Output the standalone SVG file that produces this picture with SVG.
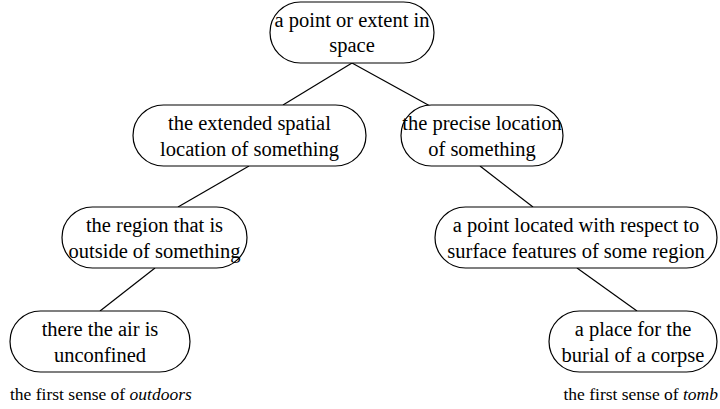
<svg xmlns="http://www.w3.org/2000/svg" width="720" height="409" viewBox="0 0 720 409">
<rect width="720" height="409" fill="#fff"/>
<g id="edges" stroke="#000" stroke-width="1.2">
<line x1="352" y1="63" x2="283" y2="105"/>
<line x1="352" y1="63" x2="430" y2="106"/>
<line x1="249" y1="166" x2="178" y2="207"/>
<line x1="480" y1="166" x2="533" y2="207"/>
<line x1="155" y1="268" x2="100" y2="311"/>
<line x1="577" y1="268" x2="637" y2="311"/>
</g>
<g id="nodes" fill="#fff" stroke="#000" stroke-width="1.2">
<g id="n1"><rect x="270" y="2" width="164" height="61" rx="30.5"/><text x="352" y="27" font-family="Liberation Serif" font-size="20.5" text-anchor="middle" fill="#000" stroke="none">a point or extent in</text><text x="352" y="52" font-family="Liberation Serif" font-size="20.5" text-anchor="middle" fill="#000" stroke="none">space</text></g>
<g id="n2"><rect x="133" y="105" width="233" height="61" rx="30.5"/><text x="249.5" y="130" font-family="Liberation Serif" font-size="20.5" text-anchor="middle" fill="#000" stroke="none">the extended spatial</text><text x="249.5" y="156" font-family="Liberation Serif" font-size="20.5" text-anchor="middle" fill="#000" stroke="none">location of something</text></g>
<g id="n3"><rect x="401" y="105" width="162" height="61" rx="30.5"/><text x="482" y="130" font-family="Liberation Serif" font-size="20.5" text-anchor="middle" fill="#000" stroke="none">the precise location</text><text x="482" y="156" font-family="Liberation Serif" font-size="20.5" text-anchor="middle" fill="#000" stroke="none">of something</text></g>
<g id="n4"><rect x="62" y="207" width="185" height="61" rx="30.5"/><text x="154.5" y="232" font-family="Liberation Serif" font-size="20.5" text-anchor="middle" fill="#000" stroke="none">the region that is</text><text x="154.5" y="258" font-family="Liberation Serif" font-size="20.5" text-anchor="middle" fill="#000" stroke="none">outside of something</text></g>
<g id="n5"><rect x="435" y="207" width="282" height="61" rx="30.5"/><text x="576" y="232" font-family="Liberation Serif" font-size="20.5" text-anchor="middle" fill="#000" stroke="none">a point located with respect to</text><text x="576" y="258" font-family="Liberation Serif" font-size="20.5" text-anchor="middle" fill="#000" stroke="none">surface features of some region</text></g>
<g id="n6"><rect x="10" y="311" width="180" height="61" rx="30.5"/><text x="100" y="336" font-family="Liberation Serif" font-size="20.5" text-anchor="middle" fill="#000" stroke="none">there the air is</text><text x="100" y="362" font-family="Liberation Serif" font-size="20.5" text-anchor="middle" fill="#000" stroke="none">unconfined</text></g>
<g id="n7"><rect x="549" y="311" width="168" height="61" rx="30.5"/><text x="633" y="336" font-family="Liberation Serif" font-size="20.5" text-anchor="middle" fill="#000" stroke="none">a place for the</text><text x="633" y="362" font-family="Liberation Serif" font-size="20.5" text-anchor="middle" fill="#000" stroke="none">burial of a corpse</text></g>
</g>
<text x="10" y="400" font-family="Liberation Serif" font-size="17.5" fill="#000">the first sense of <tspan font-style="italic">outdoors</tspan></text>
<text x="718" y="400" font-family="Liberation Serif" font-size="17.5" text-anchor="end" fill="#000">the first sense of <tspan font-style="italic">tomb</tspan></text>
</svg>
